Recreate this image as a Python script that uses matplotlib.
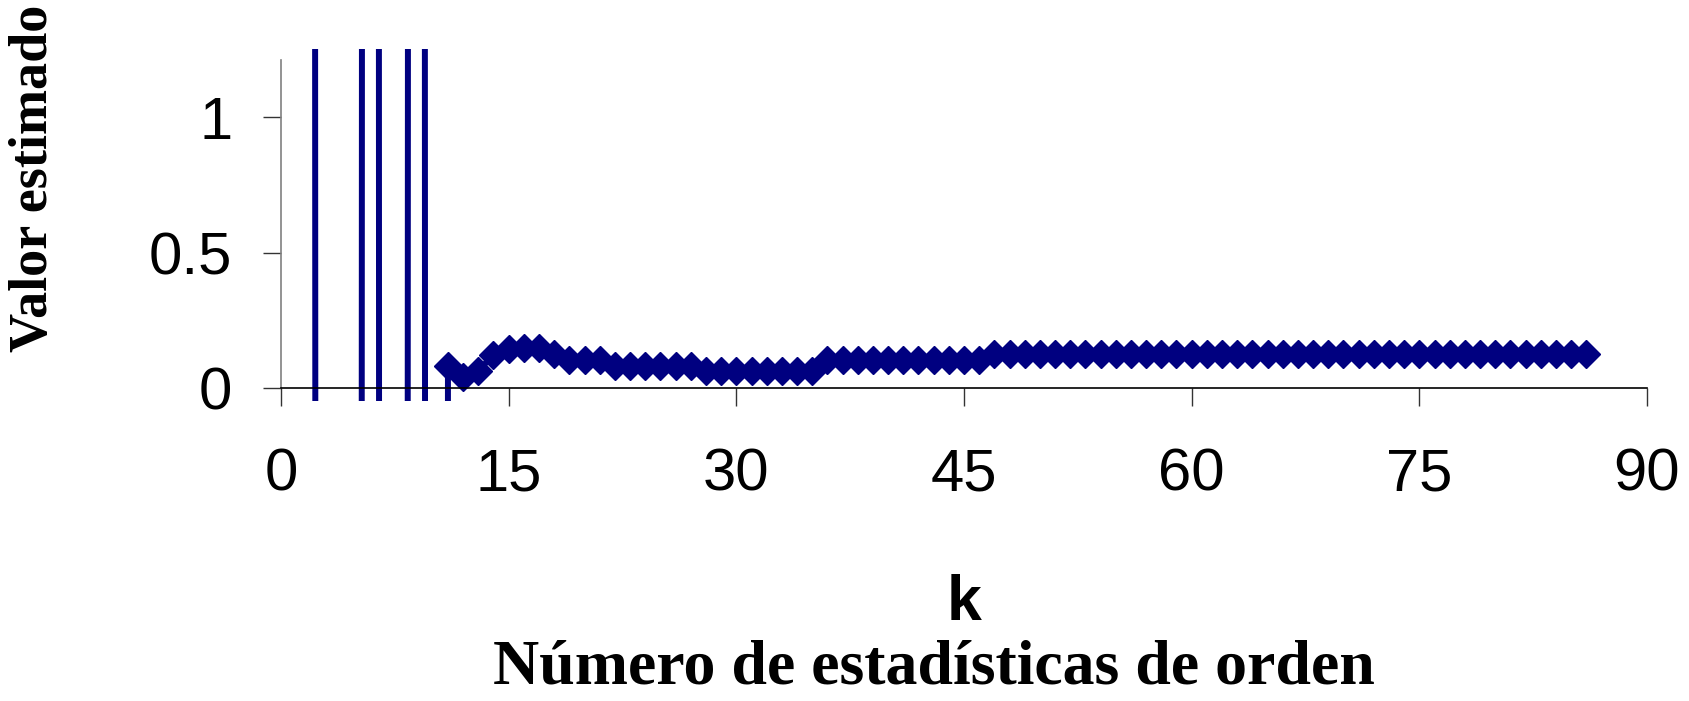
import matplotlib
matplotlib.use("Agg")
import matplotlib.pyplot as plt

# ---- data ----
k = list(range(1, 87))
valores = ([40, 26, -74, -50, -32, 68, -80, -35, 65, -68,
            0.083, 0.040, 0.063, 0.123, 0.145, 0.146, 0.146, 0.125,
            0.103, 0.103, 0.103]
           + [0.082] * 6      # k = 22..27
           + [0.062] * 8      # k = 28..35
           + [0.103] * 11     # k = 36..46
           + [0.124] * 40)    # k = 47..86
x_ticks = [0, 15, 30, 45, 60, 75, 90]
y_ticks = [0, 0.5, 1]
y_tick_labels = ["0", "0.5", "1"]

navy = "#000080"

fig = plt.figure(figsize=(16.9, 7.01), dpi=100)
ax = fig.add_axes([281 / 1690, (701 - 401) / 701, 1366 / 1690, 352 / 701])

ax.plot(k, valores, color=navy, linewidth=4.3, marker="D", markersize=14,
        markerfacecolor=navy, markeredgecolor=navy, markeredgewidth=1,
        solid_joinstyle="miter")

ax.set_xlim(0, 90)
ax.set_ylim(-0.048, 1.251)

for s in ["top", "right"]:
    ax.spines[s].set_visible(False)
ax.spines["bottom"].set_position(("data", 0))
ax.spines["bottom"].set_color("black")
ax.spines["bottom"].set_linewidth(1.2)
ax.spines["left"].set_bounds(0, 1.21)
ax.spines["left"].set_color("#808080")
ax.spines["left"].set_linewidth(1.2)

ax.set_xticks(x_ticks)
ax.set_xticklabels([str(v) for v in x_ticks])
ax.set_yticks(y_ticks)
ax.set_yticklabels(y_tick_labels)

ax.tick_params(axis="x", direction="out", length=13, width=1.0, color="#333333",
               pad=30, labelsize=43)
ax.tick_params(axis="y", direction="out", length=13, width=1.0, color="#333333",
               pad=22, labelsize=43)
for lab in ax.get_xticklabels() + ax.get_yticklabels():
    lab.set_fontfamily("Liberation Sans")

fig.text(964 / 1690, (701 - 604) / 701, "k", fontfamily="Liberation Sans",
         fontweight="bold", fontsize=45, ha="center", va="center")
fig.text(934 / 1690, 3 / 701, "Número de estadísticas de orden",
         fontfamily="Liberation Serif", fontweight="bold", fontsize=46,
         ha="center", va="bottom")
fig.text(34 / 1690, (701 - 178) / 701, "Valor estimado",
         fontfamily="Liberation Serif", fontweight="bold", fontsize=39,
         rotation=90, ha="center", va="center")

fig.savefig("out.png", dpi=100)
